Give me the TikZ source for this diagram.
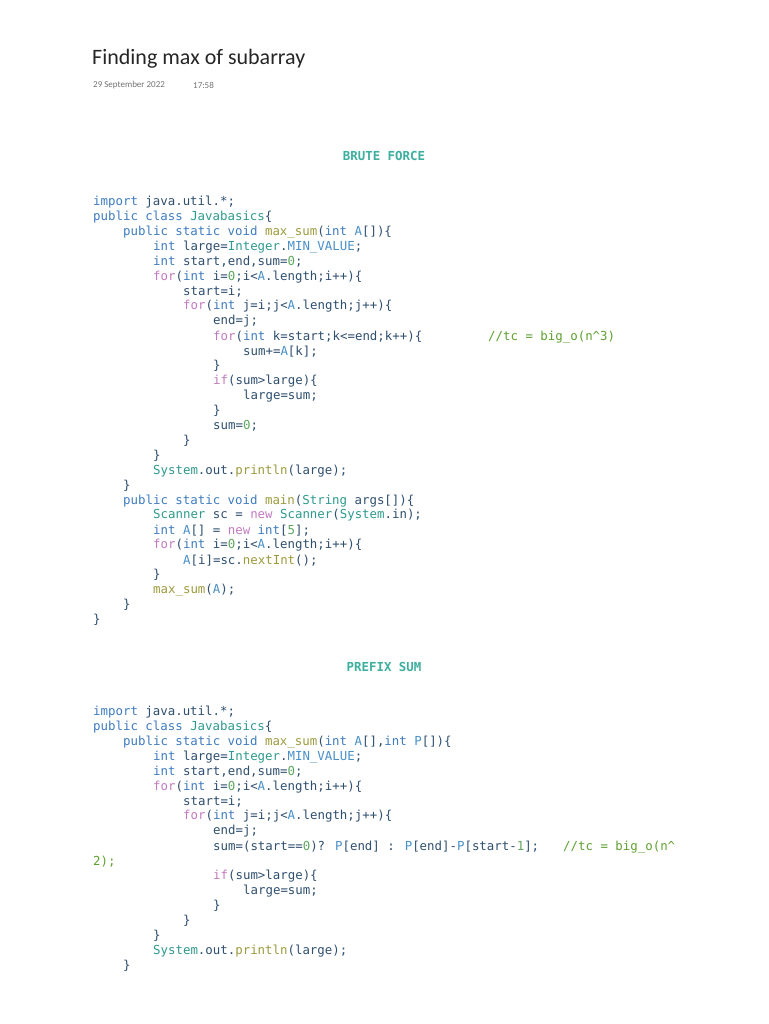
\documentclass[tikz,border=0pt]{standalone}
\usepackage{fontspec}
\setmainfont{Carlito}
\newfontfamily\codefont{DejaVu Sans Mono}
\definecolor{kwc}{HTML}{3F7CC0}
\definecolor{flc}{HTML}{C27BC0}
\definecolor{fnc}{HTML}{9C9A3C}
\definecolor{clc}{HTML}{2E9A8E}
\definecolor{txc}{HTML}{2F4F6F}
\definecolor{nmc}{HTML}{5FA85F}
\definecolor{cmc}{HTML}{5FA030}
\definecolor{cnc}{HTML}{4A90C8}
\definecolor{hdc}{HTML}{3DAF9F}
\newcommand\kw[1]{\textcolor{kwc}{#1}}
\newcommand\fl[1]{\textcolor{flc}{#1}}
\newcommand\fn[1]{\textcolor{fnc}{#1}}
\newcommand\cl[1]{\textcolor{clc}{#1}}
\newcommand\nm[1]{\textcolor{nmc}{#1}}
\newcommand\cm[1]{\textcolor{cmc}{#1}}
\newcommand\cn[1]{\textcolor{cnc}{#1}}
\begin{document}
\begin{tikzpicture}[x=1pt,y=-1pt]
  \tikzstyle{code line}=[anchor=west,inner sep=0,text=txc,font=\codefont\fontsize{12.4}{14}\selectfont]
  \tikzstyle{heading}=[inner sep=0,text=hdc,font=\codefont\bfseries\fontsize{12.4}{14}\selectfont]
  \useasboundingbox[fill=white] (0,0) rectangle (768,1024);
  \node(title)[anchor=west,inner sep=0,font=\fontsize{22}{26}\selectfont,text=black!85] at (92,59) {Finding max of subarray};
  \node(date)[anchor=west,inner sep=0,font=\fontsize{9}{11}\selectfont,text=black!55] at (93,85) {29 September 2022};
  \node(time)[anchor=west,inner sep=0,font=\fontsize{9}{11}\selectfont,text=black!55] at (193,85) {17:58};
  % brute force
  \node(brute)[heading] at (384,156) {BRUTE FORCE};
  \foreach \l/\t [count=\n] in {
    0/{\kw{import} java.util.*;},
    0/{\kw{public class} \cl{Javabasics}\{},
    1/{\kw{public static void} \fn{max\_sum}(\kw{int} \cn{A}[])\{},
    2/{\kw{int} large=\cl{Integer}.\cn{MIN\_VALUE};},
    2/{\kw{int} start,end,sum=\nm{0};},
    2/{\fl{for}(\kw{int} i=\nm{0};i<\cn{A}.length;i++)\{},
    3/{start=i;},
    3/{\fl{for}(\kw{int} j=i;j<\cn{A}.length;j++)\{},
    4/{end=j;},
    4/{\fl{for}(\kw{int} k=start;k<=end;k++)\{},
    5/{sum+=\cn{A}[k];},
    4/{\}},
    4/{\fl{if}(sum>large)\{},
    5/{large=sum;},
    4/{\}},
    4/{sum=\nm{0};},
    3/{\}},
    2/{\}},
    2/{\cl{System}.out.\fn{println}(large);},
    1/{\}},
    1/{\kw{public static void} \fn{main}(\cl{String} args[])\{},
    2/{\cl{Scanner} sc = \fl{new} \cl{Scanner}(\cl{System}.in);},
    2/{\kw{int} \cn{A}[] = \fl{new} \kw{int}[\nm{5}];},
    2/{\fl{for}(\kw{int} i=\nm{0};i<\cn{A}.length;i++)\{},
    3/{\cn{A}[i]=sc.\fn{nextInt}();},
    2/{\}},
    2/{\fn{max\_sum}(\cn{A});},
    1/{\}},
    0/{\}}}
    \node(b\n)[code line] at (93+30*\l,202+14.93*\n-14.93) {\t};
  \node(bcm)[code line] at (488,337) {\cm{//tc = big\_o(n\textasciicircum3)}};
  % prefix sum
  \node(prefix)[heading] at (384,667) {PREFIX SUM};
  \foreach \l/\t [count=\n] in {
    0/{\kw{import} java.util.*;},
    0/{\kw{public class} \cl{Javabasics}\{},
    1/{\kw{public static void} \fn{max\_sum}(\kw{int} \cn{A}[],\kw{int} \cn{P}[])\{},
    2/{\kw{int} large=\cl{Integer}.\cn{MIN\_VALUE};},
    2/{\kw{int} start,end,sum=\nm{0};},
    2/{\fl{for}(\kw{int} i=\nm{0};i<\cn{A}.length;i++)\{},
    3/{start=i;},
    3/{\fl{for}(\kw{int} j=i;j<\cn{A}.length;j++)\{},
    4/{end=j;},
    4/{sum=(start==\nm{0})? \cn{P}[end] : \cn{P}[end]-\cn{P}[start-\nm{1}];},
    0/{\cm{2);}},
    4/{\fl{if}(sum>large)\{},
    5/{large=sum;},
    4/{\}},
    3/{\}},
    2/{\}},
    2/{\cl{System}.out.\fn{println}(large);},
    1/{\}}}
    \node(p\n)[code line] at (93+30*\l,712+14.93*\n-14.93) {\t};
  \node(pcm)[code line] at (563,847) {\cm{//tc = big\_o(n\textasciicircum}};
\end{tikzpicture}
\end{document}
